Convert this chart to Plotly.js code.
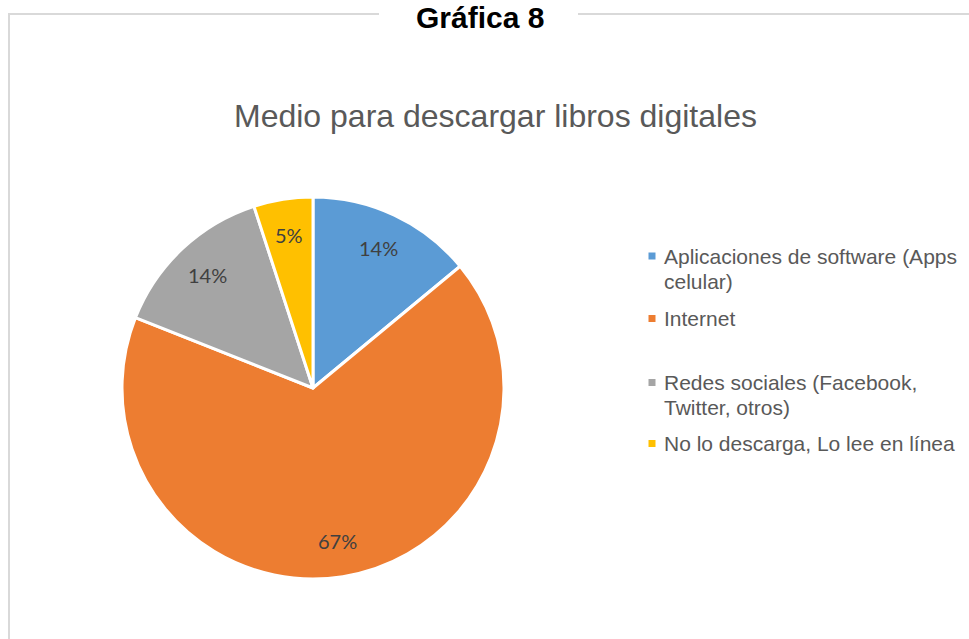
<!DOCTYPE html>
<html>
<head>
<meta charset="utf-8">
<script src="https://cdn.plot.ly/plotly-3.0.1.min.js"></script>
<style>html,body{margin:0;padding:0;background:#fff;}#chart{width:969px;height:639px;}</style>
</head>
<body>
<div id="chart"></div>
<script>
const headerText = "Gráfica 8";
const chartTitle = "Medio para descargar libros digitales";
const categories = [
  "Aplicaciones de software (Apps<br>celular)",
  "Internet",
  "Redes sociales (Facebook,<br>Twitter, otros)",
  "No lo descarga, Lo lee en línea"
];
const values = [14, 67, 14, 5];
const colors = ["#5b9bd5", "#ed7d31", "#a5a5a5", "#ffc000"];

const W = 969, H = 639;
const px = x => x / W;
const py = y => 1 - y / H;

// Pie geometry
const cx = 313, cy = 388, R = 191;

const trace = {
  type: "pie",
  labels: categories.map(c => c.replace("<br>", " ")),
  values: values,
  sort: false,
  direction: "clockwise",
  rotation: 0,
  marker: {colors: colors, line: {color: "#ffffff", width: 3}},
  textinfo: "none",
  hoverinfo: "label+percent",
  showlegend: false,
  domain: {x: [px(cx - R), px(cx + R)], y: [py(cy + R), py(cy - R)]}
};

const shapes = [
  {type: "line", xref: "paper", yref: "paper", x0: px(9), x1: px(9), y0: py(14), y1: py(639), line: {color: "#d9d9d9", width: 2}},
  {type: "line", xref: "paper", yref: "paper", x0: px(8), x1: px(379), y0: py(14), y1: py(14), line: {color: "#d9d9d9", width: 2}},
  {type: "line", xref: "paper", yref: "paper", x0: px(578), x1: px(969), y0: py(14), y1: py(14), line: {color: "#d9d9d9", width: 2}}
];

const annotations = [
  {text: "<b>" + headerText + "</b>", xref: "paper", yref: "paper", x: px(480), y: py(18), xanchor: "center", yanchor: "middle", showarrow: false,
   font: {family: "'Liberation Sans', Arial, sans-serif", size: 30, color: "#000000"}},
  {text: chartTitle, xref: "paper", yref: "paper", x: px(496), y: py(116), xanchor: "center", yanchor: "middle", showarrow: false,
   font: {family: "'Liberation Sans', Arial, sans-serif", size: 32, color: "#595959"}}
];

// Percentage labels placed along each slice's bisector (computed from values)
const total = values.reduce((a, b) => a + b, 0);
let cum = 0;
values.forEach((v, i) => {
  const mid = (cum + v / 2) / total * 2 * Math.PI;
  cum += v;
  const r = 0.81 * R;
  const lx = cx + r * Math.sin(mid);
  const ly = cy - r * Math.cos(mid);
  annotations.push({text: Math.round(v / total * 100) + "%", xref: "paper", yref: "paper", x: px(lx), y: py(ly),
    xanchor: "center", yanchor: "middle", showarrow: false,
    font: {family: "Lato, 'Open Sans', sans-serif", size: 20, color: "#404040"}});
});

// Custom legend
const legendLineY = [[256, 281], [318.5], [382.5, 407.5], [443.5]];
const legendX = 662;
categories.forEach((c, i) => {
  const lines = c.split("<br>");
  lines.forEach((ln, j) => {
    annotations.push({text: ln, xref: "paper", yref: "paper", x: px(legendX), y: py(legendLineY[i][j]),
      xanchor: "left", yanchor: "middle", showarrow: false,
      font: {family: "'Liberation Sans', Arial, sans-serif", size: 21, color: "#595959"}});
  });
  const my = legendLineY[i][0];
  shapes.push({type: "rect", xref: "paper", yref: "paper", x0: px(648.5), x1: px(655.5), y0: py(my + 3.5), y1: py(my - 3.5),
    fillcolor: colors[i], line: {width: 0}});
});

const layout = {
  width: W, height: H,
  margin: {l: 0, r: 0, t: 0, b: 0},
  paper_bgcolor: "#ffffff",
  plot_bgcolor: "#ffffff",
  shapes: shapes,
  annotations: annotations
};

Plotly.newPlot("chart", [trace], layout, {displayModeBar: false, staticPlot: true});
</script>
</body>
</html>
